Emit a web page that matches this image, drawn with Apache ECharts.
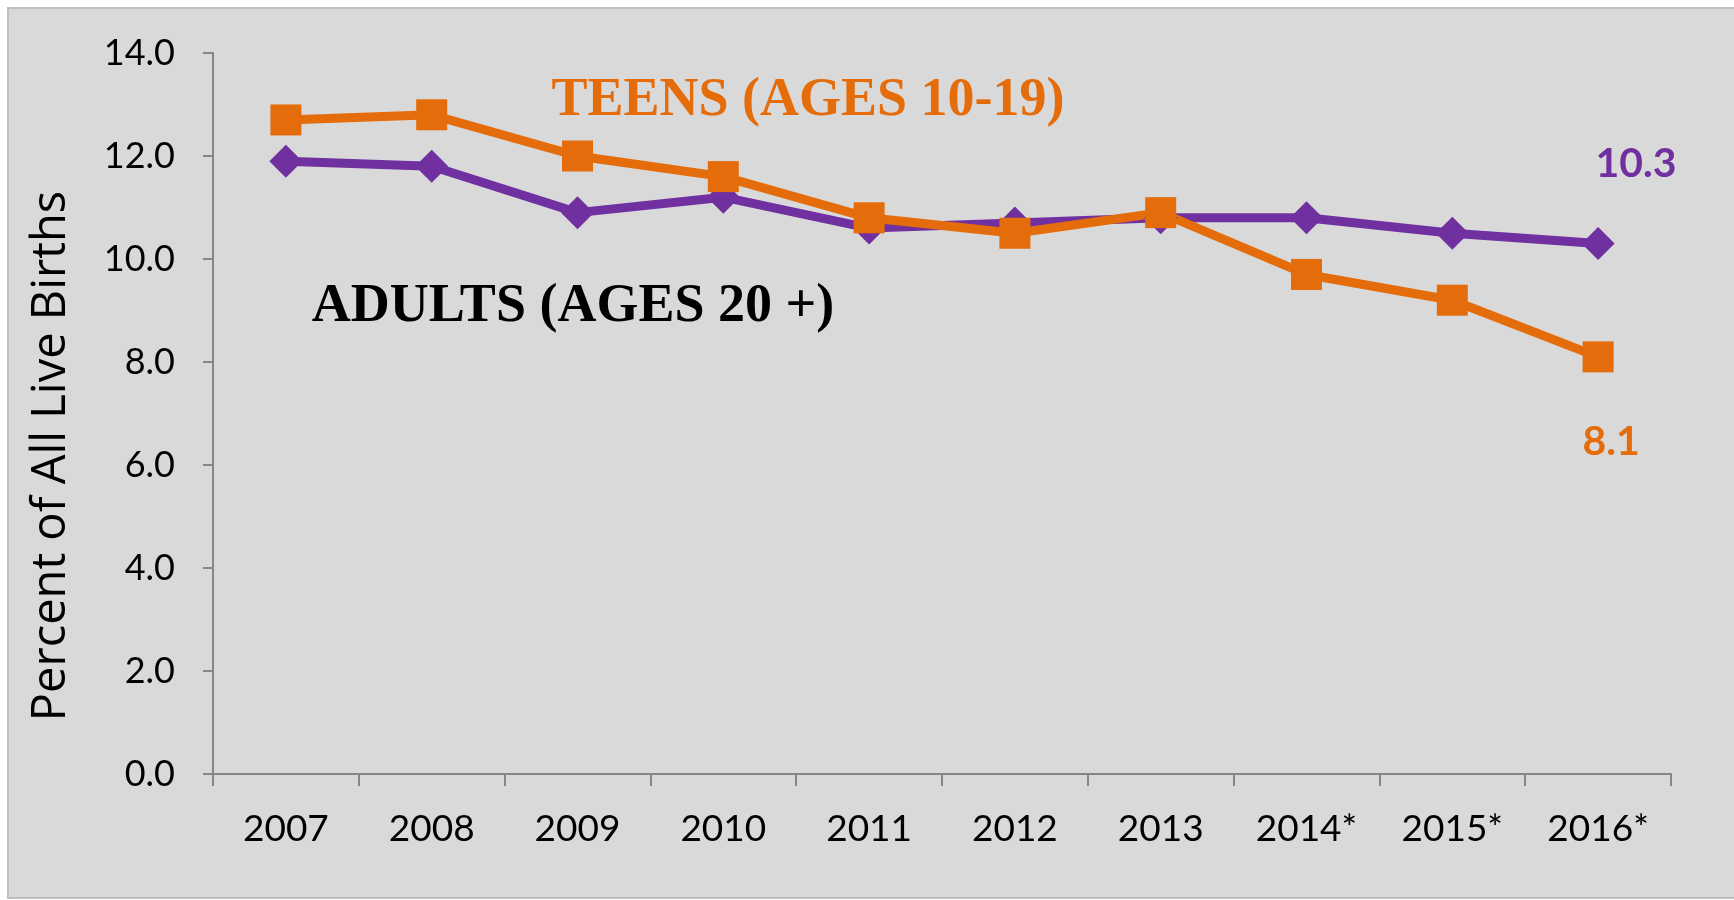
<!DOCTYPE html>
<html lang="en">
<head>
	<meta charset="utf-8">
	<title>Percent of All Live Births</title>
	<script src="https://cdn.jsdelivr.net/npm/echarts@6/dist/echarts.min.js"></script>
	<style type="text/css">
		html, body {margin:0;padding:0;background:#ffffff}
		#chart {width:1734px;height:900px}
	</style>
</head>
<body>
	<div id="chart"></div>
	<script>
		// data
		var years = ["2007", "2008", "2009", "2010", "2011", "2012", "2013", "2014*", "2015*", "2016*"];
		var adults = [11.9, 11.8, 10.9, 11.2, 10.6, 10.7, 10.8, 10.8, 10.5, 10.3];
		var teens = [12.7, 12.8, 12.0, 11.6, 10.8, 10.5, 10.9, 9.7, 9.2, 8.1];
		var yTicks = [0, 2, 4, 6, 8, 10, 12, 14];

		var purple = "#7030A0";
		var orange = "#E46C0A";

		// only the last point carries a value label
		function withEndLabel(values, color, offset) {
			return values.map(function (v, i) {
				if (i != values.length - 1) return v;
				return {
					value: v,
					label: {
						show: true,
						position: "inside",
						offset: offset,
						formatter: function (p) { return p.value.toFixed(1); },
						color: color,
						fontFamily: "Lato",
						fontWeight: "bold",
						fontSize: 41
					}
				};
			});
		}

		var myChart = echarts.init(document.getElementById("chart"));

		var option = {
			animation: false,
			backgroundColor: "#ffffff",
			grid: {left: 213, right: 63, top: 53, bottom: 126},
			graphic: [
				{
					type: "rect",
					z: -10,
					shape: {x: 8, y: 8, width: 1740, height: 890},
					style: {fill: "#d9d9d9", stroke: "#bfbfbf", lineWidth: 2}
				},
				{
					// axis title sits a bit below the axis centre in the original
					type: "text",
					x: 52, y: 456,
					rotation: Math.PI / 2,
					style: {
						text: "Percent of All Live Births",
						fill: "#000000",
						font: "47px 'Open Sans'",
						textAlign: "center",
						textVerticalAlign: "middle"
					}
				},
				{
					type: "text",
					x: 808, y: 101,
					style: {
						text: "TEENS (AGES 10-19)",
						fill: orange,
						font: "bold 54px 'Liberation Serif'",
						textAlign: "center",
						textVerticalAlign: "middle"
					}
				},
				{
					type: "text",
					x: 573, y: 307,
					style: {
						text: "ADULTS (AGES 20 +)",
						fill: "#000000",
						font: "bold 54px 'Liberation Serif'",
						textAlign: "center",
						textVerticalAlign: "middle"
					}
				}
			],
			xAxis: {
				type: "category",
				data: years,
				boundaryGap: true,
				axisLine: {lineStyle: {color: "#868686", width: 2}},
				axisTick: {show: true, length: 12, lineStyle: {color: "#868686", width: 2}},
				axisLabel: {color: "#000000", fontFamily: "Lato", fontSize: 37, margin: 37}
			},
			yAxis: {
				type: "value",
				min: yTicks[0],
				max: yTicks[yTicks.length - 1],
				interval: 2,
				splitLine: {show: false},
				axisLine: {show: true, lineStyle: {color: "#868686", width: 2}},
				axisTick: {show: true, length: 10, lineStyle: {color: "#868686", width: 2}},
				axisLabel: {
					color: "#000000", fontFamily: "Lato", fontSize: 36, margin: 38,
					formatter: function (v) { return v.toFixed(1); }
				}
			},
			series: [
				{
					name: "Adults",
					type: "line",
					data: withEndLabel(adults, purple, [38, -80]),
					symbol: "diamond",
					symbolSize: 33,
					lineStyle: {color: purple, width: 9},
					itemStyle: {color: purple}
				},
				{
					name: "Teens",
					type: "line",
					data: withEndLabel(teens, orange, [13, 85]),
					symbol: "rect",
					symbolSize: 31,
					lineStyle: {color: orange, width: 9},
					itemStyle: {color: orange}
				}
			]
		};

		myChart.setOption(option);
	</script>
</body>
</html>
